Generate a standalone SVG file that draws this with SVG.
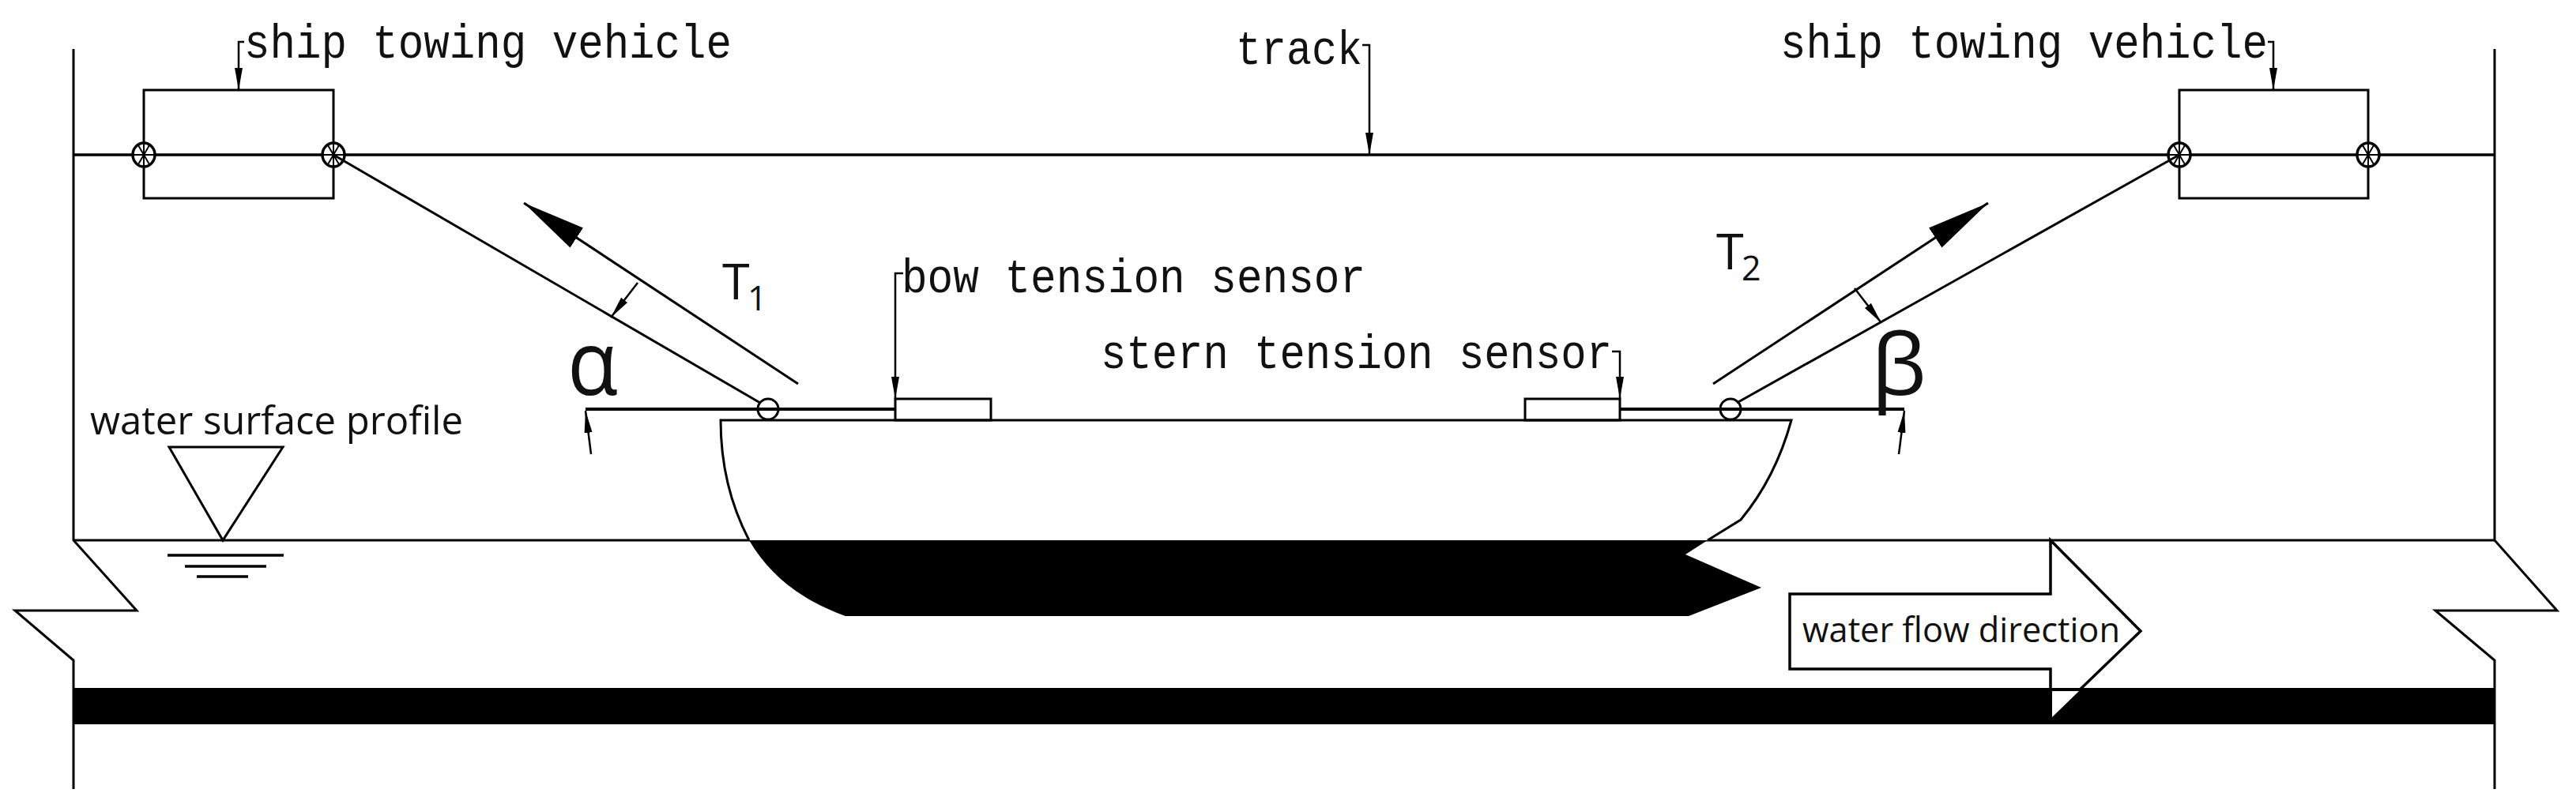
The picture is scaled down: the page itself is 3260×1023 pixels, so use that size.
<svg xmlns="http://www.w3.org/2000/svg" xmlns:xlink="http://www.w3.org/1999/xlink" width="3260" height="1023" viewBox="0 0 3260 1023">
<style>
.l{fill:none;stroke:#000;stroke-width:3}
.t{fill:none;stroke:#000;stroke-width:2.5}
.b{fill:#000;stroke:none}
.w{fill:#fff;stroke:#000;stroke-width:3.5}
.m{font-family:"Liberation Mono",monospace;font-size:62px;fill:#111}
.s{font-family:"Open Sans","Noto Sans",sans-serif;fill:#111}
</style>
<defs>
<marker id="a" markerUnits="userSpaceOnUse" markerWidth="30" markerHeight="14" refX="28" refY="6" orient="auto"><path d="M0 1 L28 6 L0 11Z" fill="#000"/></marker>
<marker id="h" markerUnits="userSpaceOnUse" markerWidth="84" markerHeight="34" refX="80" refY="16" orient="auto"><path d="M0 1 L80 16 L0 31Z" fill="#000"/></marker>
<g id="wheel"><ellipse cx="0" cy="0" rx="14" ry="15" fill="#fff" stroke="#000" stroke-width="3.5"/><path d="M-14 0H14M-7 -12L7 12M7 -12L-7 12M0 -15V15" stroke="#000" stroke-width="2" fill="none"/></g>
</defs>
<rect width="3260" height="1023" fill="#fff"/>

<g id="channel">
<path class="l" d="M93 62V684L173 773H19L93 836V999"/>
<path class="l" d="M3157 62V684L3236 773H3082L3157 836V999"/>
<path class="l" d="M93 684H3157"/>
</g>
<g id="track"><path d="M93 196H3157" stroke="#000" stroke-width="3.5" fill="none"/></g>

<g id="flow-arrow">
<path class="w" d="M2265 752H2595V684L2709 799L2595 909V847H2265Z"/>
<text class="s" x="2281" y="813" font-size="43" textLength="402" lengthAdjust="spacingAndGlyphs">water flow direction</text>
</g>
<g id="river-bed">
<rect class="b" x="93" y="871" width="3064" height="46"/>
<path d="M2597 875H2631L2597 908Z" fill="#fff"/>
</g>

<g id="vehicle-left">
<rect class="l" x="182" y="114" width="240" height="137"/>
<use xlink:href="#wheel" href="#wheel" x="182" y="196"/>
<use xlink:href="#wheel" href="#wheel" x="422" y="196"/>
<text class="m" x="309" y="73" textLength="617" lengthAdjust="spacingAndGlyphs">ship towing vehicle</text>
</g>
<g id="vehicle-right">
<rect class="l" x="2758" y="114" width="239" height="137"/>
<use xlink:href="#wheel" href="#wheel" x="2758" y="196"/>
<use xlink:href="#wheel" href="#wheel" x="2997" y="196"/>
<text class="m" x="2253" y="73" textLength="617" lengthAdjust="spacingAndGlyphs">ship towing vehicle</text>
</g>
<g id="track-label"><text class="m" x="1564" y="81" textLength="160" lengthAdjust="spacingAndGlyphs">track</text></g>

<g id="ship">
<path d="M912 532H2267Q2247 605 2203 658L2161 684H948C925 640 912 590 912 532Z" fill="#fff"/>
<path class="b" d="M948 684C975 730 1015 760 1070 780H2137L2229 744L2133 702L2161 684Z"/>
<path class="l" d="M948 684C925 640 912 590 912 532H2267Q2247 605 2203 658L2161 684"/>
</g>
<g id="bow-sensor"><rect class="l" x="1133" y="505" width="121" height="27"/><text class="m" x="1141" y="370" textLength="587" lengthAdjust="spacingAndGlyphs">bow tension sensor</text></g>
<g id="stern-sensor"><rect class="l" x="1930" y="505" width="120" height="27"/><text class="m" x="1393" y="466" textLength="647" lengthAdjust="spacingAndGlyphs">stern tension sensor</text></g>

<g id="connectors">
<path class="t" marker-end="url(#a)" d="M309 53H302V114"/>
<path class="t" marker-end="url(#a)" d="M2870 53H2877V114"/>
<path class="t" marker-end="url(#a)" d="M1724 57H1733V196"/>
<path class="t" marker-end="url(#a)" d="M1143 346H1133V505"/>
<path class="t" marker-end="url(#a)" d="M2040 445H2050V505"/>
<path class="l" d="M422 196L962 510"/>
<path class="l" d="M2758 196L2198 510"/>
<path d="M741 518H1133M2050 518H2410" stroke="#000" stroke-width="4" fill="none"/>
<path class="l" marker-end="url(#h)" d="M1010 486L663 257"/>
<path class="l" marker-end="url(#h)" d="M2168 486L2516 257"/>
<path class="t" marker-end="url(#a)" d="M807 358L773 402"/>
<path class="t" marker-end="url(#a)" d="M2347 365L2381 409"/>
<path class="t" marker-end="url(#a)" d="M748 575L741 520"/>
<path class="t" marker-end="url(#a)" d="M2403 575L2410 520"/>
</g>
<g id="rope-eyes">
<ellipse cx="972" cy="518" rx="13" ry="13" fill="none" stroke="#000" stroke-width="3"/>
<ellipse cx="2190" cy="518" rx="13" ry="13" fill="none" stroke="#000" stroke-width="3"/>
</g>

<g id="water-symbol">
<path class="l" d="M214 566H358L282 684Z"/>
<path d="M212 703H359M234 717H337M249 730H314" stroke="#000" stroke-width="3.5" fill="none"/>
<text class="s" x="114" y="550" font-size="50" textLength="472" lengthAdjust="spacingAndGlyphs">water surface profile</text>
</g>
<g id="labels">
<text class="s" x="914" y="379" font-size="63">T</text>
<text class="s" x="946" y="393" font-size="43">1</text>
<text class="s" x="2172" y="341" font-size="63">T</text>
<text class="s" x="2204" y="355" font-size="43">2</text>
<text class="s" x="718" y="500" font-size="114" textLength="64" lengthAdjust="spacingAndGlyphs">α</text>
<text class="s" x="2368" y="500" font-size="108" textLength="70" lengthAdjust="spacingAndGlyphs">β</text>
</g>
</svg>
